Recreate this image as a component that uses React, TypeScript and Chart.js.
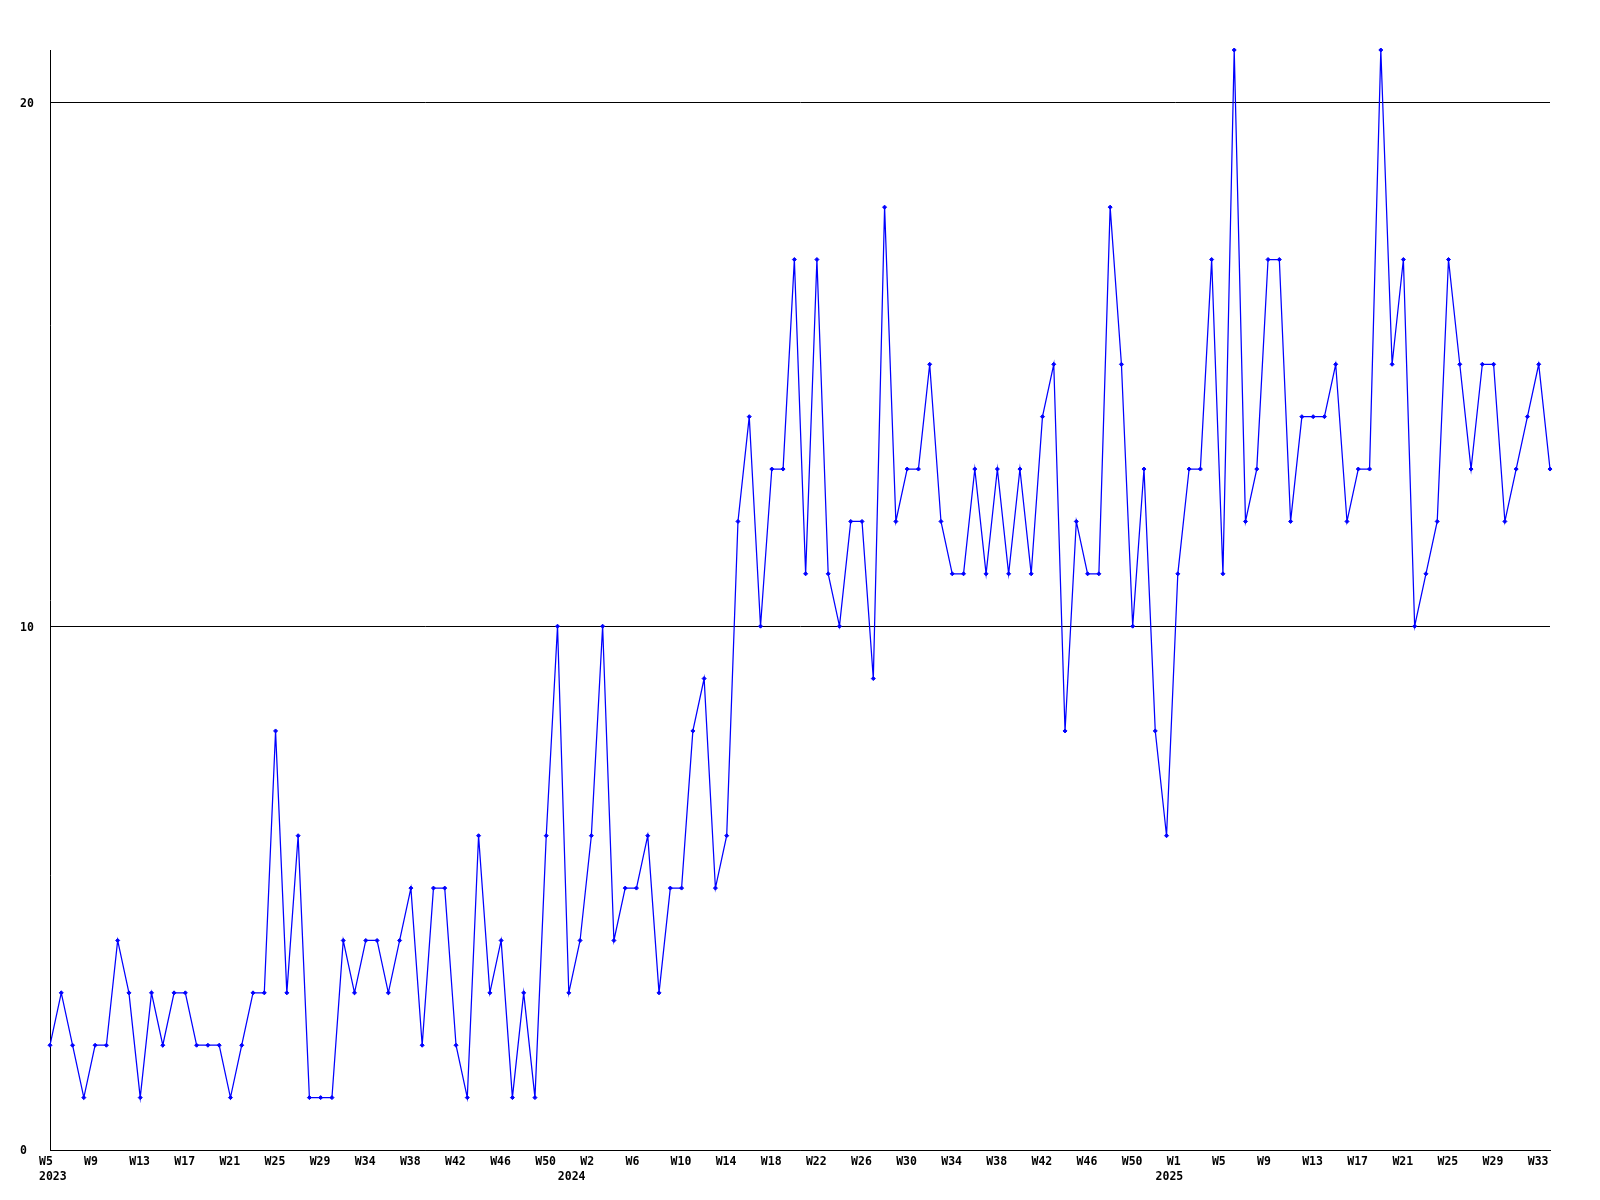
import React, { useEffect, useRef } from "react";
import { Chart, registerables } from "chart.js";

Chart.register(...registerables);

// Weekly values, 2023 W5 .. 2025 W33
const values: number[] = [
  2, 3, 2, 1, 2, 2, 4, 3, 1, 3, 2, 3, 3, 2, 2, 2, 1, 2, 3, 3,
  8, 3, 6, 1, 1, 1, 4, 3, 4, 4, 3, 4, 5, 2, 5, 5, 2, 1, 6, 3, 4, 1, 3,
  1, 6, 10, 3, 4, 6, 10, 4, 5, 5, 6, 3, 5, 5, 8, 9, 5, 6, 12, 14, 10, 13, 13,
  17, 11, 17, 11, 10, 12, 12, 9, 18, 12, 13, 13, 15, 12, 11, 11, 13, 11, 13, 11, 13, 11, 14,
  15, 8, 12, 11, 11, 18, 15, 10, 13, 8, 6, 11, 13, 13, 17, 11, 21, 12, 13, 17, 17, 12, 14,
  14, 14, 15, 12, 13, 13, 21, 15, 17, 10, 11, 12, 17, 15, 13, 15, 15, 12, 13, 14, 15, 13,
];

const categories: string[] = values.map((_, i) => String(i));

// Week tick labels, shown on every 4th category
const weekTickLabels: string[] = [
  "W5", "W9", "W13", "W17", "W21", "W25", "W29", "W34", "W38", "W42", "W46", "W50",
  "W2", "W6", "W10", "W14", "W18", "W22", "W26", "W30", "W34", "W38", "W42", "W46", "W50",
  "W1", "W5", "W9", "W13", "W17", "W21", "W25", "W29", "W33",
];
const tickStep = 4;

const yearLabels: string[] = ["2023", "2024", "2025"];
const yearLabelIndex: number[] = [0, 46, 99];

const yTicks: number[] = [0, 10, 20];
const yMax = 21;

export default function App() {
  const ref = useRef<HTMLCanvasElement>(null);

  useEffect(() => {
    const font = {
      family: "'DejaVu Sans Mono', monospace",
      size: 11.5,
      weight: "bold" as const,
      lineHeight: 1.3,
    };
    const chart = new Chart(ref.current!, {
      type: "line",
      data: {
        labels: categories,
        datasets: [
          {
            data: values,
            borderColor: "#0000ff",
            backgroundColor: "#0000ff",
            borderWidth: 1.25,
            pointStyle: "rectRot",
            pointRadius: 2,
            pointBorderWidth: 1,
            pointBorderColor: "#0000ff",
            pointBackgroundColor: "#0000ff",
            tension: 0,
            clip: false as any,
          },
        ],
      },
      options: {
        animation: false,
        responsive: false,
        devicePixelRatio: 1,
        layout: { padding: { left: 20, top: 50, right: 50, bottom: 0 } },
        plugins: {
          legend: { display: false },
          tooltip: { enabled: false },
        },
        scales: {
          x: {
            type: "category",
            offset: false,
            grid: { display: false, drawTicks: false },
            border: { display: true, color: "#000000", width: 1 },
            ticks: {
              autoSkip: false,
              maxRotation: 0,
              minRotation: 0,
              align: "start",
              labelOffset: -11,
              padding: 5,
              color: "#000000",
              font,
              callback: (_v: any, index: number) => {
                const w = index % tickStep === 0 ? weekTickLabels[index / tickStep] ?? "" : "";
                const yi = yearLabelIndex.indexOf(index);
                if (yi >= 0) return [w, yearLabels[yi]];
                return w;
              },
            },
            afterFit: (s: any) => {
              s.height = 50;
            },
          },
          y: {
            type: "linear",
            min: 0,
            max: yMax,
            grid: { color: "#000000", lineWidth: 1, drawTicks: false },
            border: { display: true, color: "#000000", width: 1 },
            ticks: {
              crossAlign: "far",
              color: "#000000",
              font,
              padding: 0,
              labelOffset: 1.5,
            },
            afterBuildTicks: (s: any) => {
              s.ticks = yTicks.map((v) => ({ value: v }));
            },
            afterFit: (s: any) => {
              s.width = 30;
            },
          },
        },
      },
    });
    return () => chart.destroy();
  }, []);

  return (
    <div style={{ position: "absolute", left: 0, top: 0, width: 1600, height: 1200, background: "#ffffff" }}>
      <canvas ref={ref} width={1600} height={1200} style={{ display: "block" }} />
    </div>
  );
}
